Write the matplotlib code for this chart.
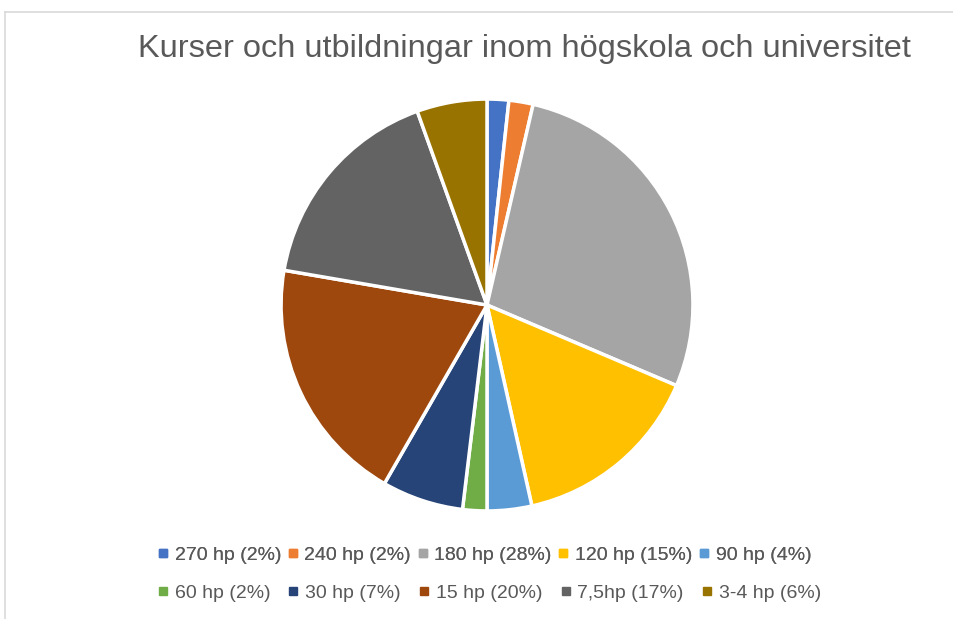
#!/usr/bin/env python3

import matplotlib.pyplot as plt
from matplotlib.lines import Line2D

labels = ['270 hp', '240 hp', '180 hp', '120 hp', '90 hp',
          '60 hp', '30 hp', '15 hp', '7,5hp', '3-4 hp']
shares = [1.7, 1.9, 27.8, 15.1, 3.5, 1.9, 6.4, 19.4, 16.8, 5.5]
pct_text = ['2%', '2%', '28%', '15%', '4%', '2%', '7%', '20%', '17%', '6%']
colors = ['#4472C4', '#ED7D31', '#A5A5A5', '#FFC000', '#5B9BD5',
          '#70AD47', '#264478', '#9E480E', '#636363', '#997300']

W, H = 954, 619
fig = plt.figure(figsize=(W/100, H/100), dpi=100)
fig.patch.set_facecolor('white')
plt.rcParams['font.family'] = ['Liberation Sans', 'DejaVu Sans']

# frame remnants (top and left)
fig.add_artist(Line2D([5/W, 1], [1-12/H, 1-12/H], color='#d9d9d9', lw=1.2))
fig.add_artist(Line2D([5/W, 5/W], [0, 1-12/H], color='#d9d9d9', lw=1.2))

fig.text(524/W, 1-49/H, 'Kurser och utbildningar inom högskola och universitet',
         ha='center', va='center', fontsize=23.4, color='#595959')

cx, cy, r = 487, 305, 208
ax = fig.add_axes([(cx-r)/W, (H-cy-r)/H, 2*r/W, 2*r/H])
ax.pie(shares, colors=colors, startangle=90, counterclock=False,
       wedgeprops=dict(edgecolor='white', linewidth=2.5))
ax.set_xlim(-1.01, 1.01)
ax.set_ylim(-1.01, 1.01)
ax.set_aspect('equal')
ax.axis('off')

handles = [Line2D([], [], marker='s', ls='', color=c, markersize=5.5) for c in colors]
texts = [f'{l} ({p})' for l, p in zip(labels, pct_text)]

rows = [(0, 5, 555, 0.35), (5, 10, 593, 0.95)]
legs = []
for a, b, y, cs in rows:
    leg = fig.legend(handles[a:b], texts[a:b], ncol=5, loc='center left',
                     bbox_to_anchor=(158/W, 1-y/H), frameon=False,
                     fontsize=14, handlelength=0.5, handletextpad=0.35,
                     columnspacing=cs, borderaxespad=0, borderpad=0)
    for t in leg.get_texts():
        t.set_color('#595959')
    legs.append(leg)
fig.add_artist(legs[0])

fig.savefig('out.png', dpi=100)
